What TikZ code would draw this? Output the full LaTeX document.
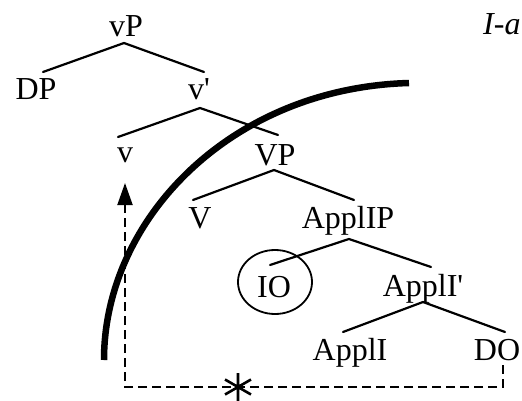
\documentclass[tikz,border=0pt]{standalone}
\usepackage{fontspec}
\setmainfont{Liberation Serif}
\usetikzlibrary{arrows.meta,shapes.geometric,calc}
\begin{document}
\begin{tikzpicture}[x=1pt,y=-1pt,
  lab/.style={anchor=base,inner sep=0pt,font=\fontsize{32}{38}\selectfont},
  branch/.style={line width=2.2pt,line cap=round},
  move/.style={line width=2pt,dash pattern=on 9pt off 5pt},
  barrier/.style={line width=6.5pt}]
\useasboundingbox (0,0) rectangle (522,401);
% labels
\node[lab] (vP) at (126,37) {vP};
\node[lab] (DP) at (36,100) {DP};
\node[lab] (vbar) at (199,100) {v\textquotesingle};
\node[lab] (v) at (125,163) {v};
\node[lab] (VP) at (275,165) {VP};
\node[lab] (V) at (200,228) {V};
\node[lab] (ApplIP) at (348,228) {ApplIP};
\node[lab] (IO) at (274,297) {IO};
\node[lab] (ApplIbar) at (423,296) {ApplI\textquotesingle};
\node[lab] (ApplI) at (350,360) {ApplI};
\node[lab] (DO) at (497,360) {DO};
\node[lab,anchor=base west,font=\fontsize{32}{38}\selectfont\itshape] (title) at (483,35) {I-a};
% circle around IO
\node[draw,ellipse,line width=1.8pt,minimum width=74pt,minimum height=64pt,inner sep=0pt] (IOc) at (275,282) {};
% branch points
\coordinate (vPa) at (124,43);
\coordinate (DPt) at (43,72);
\coordinate (vbart) at (204,72);
\coordinate (vbara) at (200,108);
\coordinate (vt) at (118,137);
\coordinate (VPt) at (278,135);
\coordinate (VPa) at (274,170);
\coordinate (Vt) at (193,200);
\coordinate (ApplIPt) at (354,200);
\coordinate (ApplIPa) at (349,239);
\coordinate (IOt) at (270,265);
\coordinate (ApplIbart) at (431,267);
\coordinate (ApplIbara) at (423,302);
\coordinate (ApplIt) at (343,332);
\coordinate (DOt) at (505,332);
\draw[branch] (DPt) -- (vPa) -- (vbart);
\draw[branch] (vt) -- (vbara) -- (VPt);
\draw[branch] (Vt) -- (VPa) -- (ApplIPt);
\draw[branch] (IOt) -- (ApplIPa) -- (ApplIbart);
\draw[branch] (ApplIt) -- (ApplIbara) -- (DOt);
% thick barrier curve
\coordinate (barA) at (104,360);
\coordinate (barB) at (409,83);
\draw[barrier] (barA) .. controls (104,220) and (230,88) .. (barB);
% dashed movement
\coordinate (DOb) at (503,365);
\coordinate (c1) at (503,387);
\coordinate (c2) at (125,387);
\coordinate (vb) at (125,183);
\draw[move,-{Triangle[length=22pt,width=15pt]}] (DOb) -- (c1) -- (c2) -- (vb);
% star
\coordinate (star) at (238,387);
\draw[line width=2.6pt] ([yshift=-14pt]star) -- ([yshift=14pt]star)
  ($(star)+(30:15)$) -- ($(star)+(210:15)$)
  ($(star)+(150:15)$) -- ($(star)+(330:15)$);
\end{tikzpicture}
\end{document}
